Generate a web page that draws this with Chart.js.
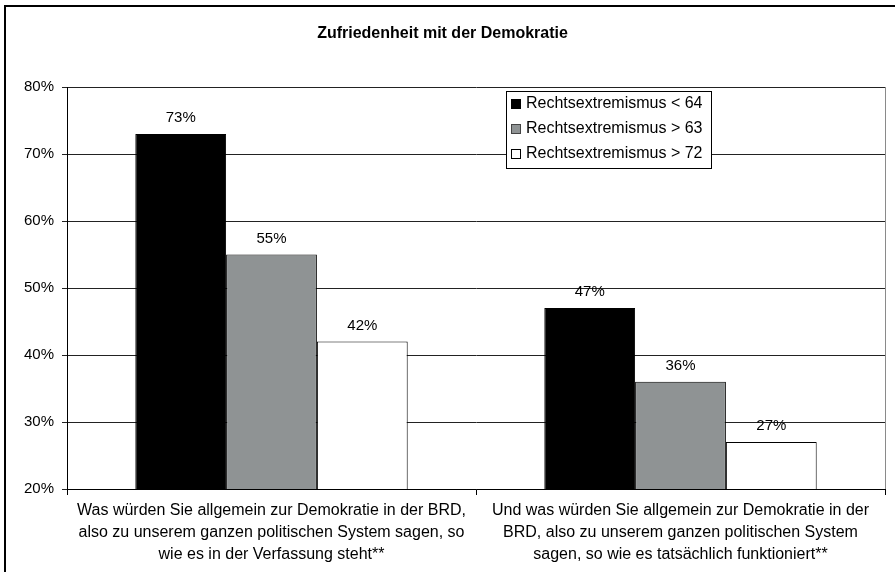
<!DOCTYPE html>
<html>
<head>
<meta charset="utf-8">
<script src="https://cdn.jsdelivr.net/npm/chart.js@4/dist/chart.umd.min.js"></script>
<style>
  html, body { margin: 0; padding: 0; background: #fff; }
  #wrap { width: 895px; height: 572px; position: relative; }
</style>
</head>
<body>
<div id="wrap"><canvas id="c" width="895" height="572"></canvas></div>
<script>
const categories = [
  ["Was würden Sie allgemein zur Demokratie in der BRD,", "also zu unserem ganzen politischen System sagen, so", "wie es in der Verfassung steht**"],
  ["Und was würden Sie allgemein zur Demokratie in der", "BRD, also zu unserem ganzen politischen System", "sagen, so wie es tatsächlich funktioniert**"]
];
const seriesNames = ["Rechtsextremismus < 64", "Rechtsextremismus > 63", "Rechtsextremismus > 72"];
const seriesLow = [73, 47];
const seriesMid = [55, 36];
const seriesHigh = [42, 27];
const yTicks = [20, 30, 40, 50, 60, 70, 80];
const titleText = "Zufriedenheit mit der Demokratie";

const FONT = '"Liberation Sans", Arial, Helvetica, sans-serif';
const colors = ['#000000', '#8f9394', '#ffffff'];

const framePlugin = {
  id: 'frame',
  beforeDraw(chart) {
    const ctx = chart.ctx;
    ctx.save();
    ctx.fillStyle = '#fff';
    ctx.fillRect(0, 0, chart.width, chart.height);
    ctx.strokeStyle = '#000';
    ctx.lineWidth = 2;
    ctx.beginPath();
    ctx.moveTo(5, chart.height + 2);
    ctx.lineTo(5, 6);
    ctx.lineTo(chart.width + 2, 6);
    ctx.stroke();
    ctx.restore();
  },
  beforeDatasetsDraw(chart) {
    const ctx = chart.ctx, a = chart.chartArea;
    ctx.save();
    ctx.strokeStyle = '#8a8a8a';
    ctx.lineWidth = 1;
    ctx.beginPath();
    ctx.moveTo(a.right + 0.5, a.top);
    ctx.lineTo(a.right + 0.5, a.bottom);
    ctx.stroke();
    ctx.restore();
  }
};

const labelPlugin = {
  id: 'valueLabels',
  afterDatasetsDraw(chart) {
    const ctx = chart.ctx;
    ctx.save();
    ctx.font = '15px ' + FONT;
    ctx.fillStyle = '#000';
    ctx.textAlign = 'center';
    ctx.textBaseline = 'middle';
    chart.data.datasets.forEach((ds, i) => {
      const meta = chart.getDatasetMeta(i);
      meta.data.forEach((bar, j) => {
        ctx.fillText(ds.data[j] + '%', bar.x, bar.y - 16);
      });
    });
    ctx.restore();
  }
};

const legendPlugin = {
  id: 'boxLegend',
  afterDraw(chart) {
    const ctx = chart.ctx;
    const x = 506, y = 91, w = 205, h = 77;
    ctx.save();
    ctx.fillStyle = '#fff';
    ctx.fillRect(x, y, w, h);
    ctx.strokeStyle = '#000';
    ctx.lineWidth = 1;
    ctx.strokeRect(x + 0.5, y + 0.5, w, h);
    ctx.font = '16px ' + FONT;
    ctx.textBaseline = 'middle';
    ctx.textAlign = 'left';
    chart.data.datasets.forEach((ds, i) => {
      const cy = y + 13 + i * 25;
      ctx.fillStyle = ds.backgroundColor;
      ctx.fillRect(x + 5, cy - 5, 10, 10);
      ctx.strokeStyle = i === 1 ? '#444' : '#000';
      ctx.strokeRect(x + 5.5, cy - 4.5, 9, 9);
      ctx.fillStyle = '#000';
      ctx.fillText(ds.label, x + 20, cy);
    });
    ctx.restore();
  }
};

new Chart(document.getElementById('c'), {
  type: 'bar',
  data: {
    labels: categories,
    datasets: [
      { label: seriesNames[0], data: seriesLow, backgroundColor: colors[0], borderColor: '#000', borderWidth: 1 },
      { label: seriesNames[1], data: seriesMid, backgroundColor: colors[1], borderColor: '#000', borderWidth: 1 },
      { label: seriesNames[2], data: seriesHigh, backgroundColor: colors[2], borderColor: '#000', borderWidth: 1 }
    ]
  },
  options: {
    responsive: false,
    animation: false,
    devicePixelRatio: 1,
    layout: { padding: { left: 0, right: 10, top: 0, bottom: 0 } },
    datasets: { bar: { categoryPercentage: 0.666, barPercentage: 1.0 } },
    plugins: {
      legend: { display: false },
      tooltip: { enabled: false },
      title: {
        display: true,
        text: titleText,
        color: '#000',
        font: { family: FONT, size: 16, weight: 'bold' },
        padding: { top: 24, bottom: 43.8 }
      }
    },
    scales: {
      x: {
        grid: { display: true, drawOnChartArea: false, drawTicks: true, tickLength: 6, color: '#000', offset: true },
        border: { display: true, color: '#000', width: 1 },
        ticks: { color: '#000', font: { family: FONT, size: 16, lineHeight: 1.375 }, padding: 5, maxRotation: 0, autoSkip: false },
        afterFit(scale) { scale.height = 83; }
      },
      y: {
        min: 20,
        max: 80,
        afterBuildTicks(scale) { scale.ticks = yTicks.map(v => ({ value: v })); },
        grid: { color: '#222', lineWidth: 1, tickLength: 5, drawTicks: true },
        border: { display: true, color: '#000', width: 1 },
        ticks: { color: '#000', font: { family: FONT, size: 15 }, padding: 8, callback: v => v + '%' },
        afterFit(scale) { scale.width = 67; }
      }
    }
  },
  plugins: [framePlugin, labelPlugin, legendPlugin]
});
</script>
</body>
</html>
